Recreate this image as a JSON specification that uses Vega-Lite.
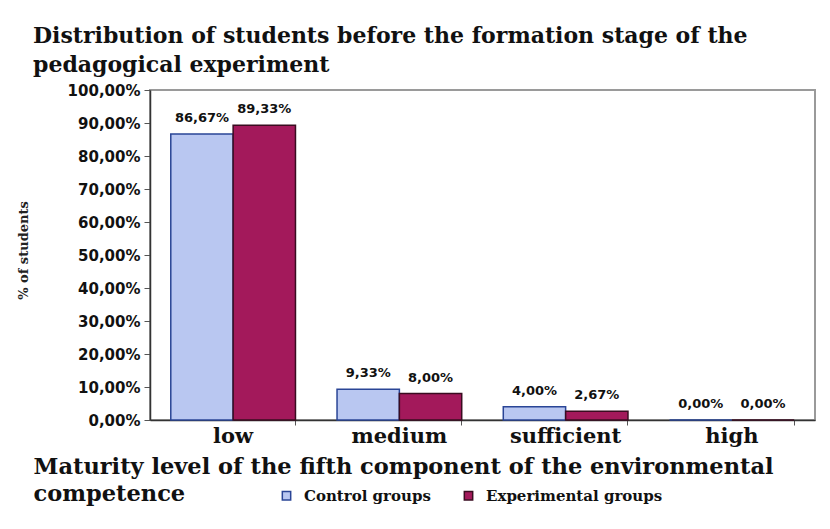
{
  "$schema": "https://vega.github.io/schema/vega-lite/v6.json",
  "width": 665,
  "height": 330,
  "autosize": "none",
  "padding": {"left": 150, "top": 90, "right": 15, "bottom": 109},
  "background": "white",
  "title": {
    "text": ["Distribution of students before the formation stage of the", "pedagogical experiment"],
    "anchor": "start",
    "frame": "group",
    "dx": -117,
    "offset": 6,
    "font": "DejaVu Serif",
    "fontSize": 22,
    "fontWeight": "bold",
    "color": "#111",
    "lineHeight": 29
  },
  "data": {
    "values": [
      {"level": "low", "group": "Control groups", "value": 86.67, "label": "86,67%"},
      {"level": "low", "group": "Experimental groups", "value": 89.33, "label": "89,33%"},
      {"level": "medium", "group": "Control groups", "value": 9.33, "label": "9,33%"},
      {"level": "medium", "group": "Experimental groups", "value": 8.0, "label": "8,00%"},
      {"level": "sufficient", "group": "Control groups", "value": 4.0, "label": "4,00%"},
      {"level": "sufficient", "group": "Experimental groups", "value": 2.67, "label": "2,67%"},
      {"level": "high", "group": "Control groups", "value": 0.0, "label": "0,00%"},
      {"level": "high", "group": "Experimental groups", "value": 0.0, "label": "0,00%"}
    ]
  },
  "config": {
    "view": {"stroke": "#9a9a9a", "strokeWidth": 2},
    "axis": {"grid": false}
  },
  "encoding": {
    "x": {
      "field": "level",
      "type": "nominal",
      "sort": ["low", "medium", "sufficient", "high"],
      "scale": {"paddingInner": 0.25, "paddingOuter": 0.125},
      "axis": {
        "title": ["Maturity level of the fifth component of the environmental", "competence"],
        "titleFont": "DejaVu Serif",
        "titleFontSize": 22.5,
        "titleFontWeight": "bold",
        "titleColor": "#111",
        "titleAnchor": "start",
        "titleAlign": "left",
        "titleBaseline": "alphabetic",
        "titleX": -117,
        "titleY": 53,
        "titleLineHeight": 27,
        "labelAngle": 0,
        "labelFont": "DejaVu Serif",
        "labelFontSize": 21,
        "labelFontWeight": "bold",
        "labelColor": "#111",
        "labelBaseline": "alphabetic",
        "labelPadding": 17,
        "domainColor": "#333",
        "domainWidth": 1.5,
        "tickColor": "#555",
        "tickSize": 5,
        "bandPosition": 1
      }
    },
    "xOffset": {"field": "group", "type": "nominal", "sort": ["Control groups", "Experimental groups"]},
    "y": {
      "field": "value",
      "type": "quantitative",
      "scale": {"domain": [0, 100], "nice": false},
      "axis": {
        "values": [0, 10, 20, 30, 40, 50, 60, 70, 80, 90, 100],
        "labelExpr": "replace(format(datum.value, '.2f'), '.', ',') + '%'",
        "labelFont": "DejaVu Sans",
        "labelFontSize": 15,
        "labelFontWeight": "bold",
        "labelColor": "#111",
        "labelPadding": 4,
        "tickSize": 6,
        "tickColor": "#555",
        "domainColor": "#333",
        "domainWidth": 1.5,
        "title": "% of students",
        "titleFont": "DejaVu Serif",
        "titleFontSize": 13,
        "titleFontWeight": "bold",
        "titleColor": "#222",
        "titleBaseline": "middle",
        "titleX": -127,
        "titleY": 160
      }
    }
  },
  "layer": [
    {
      "mark": {"type": "bar", "strokeWidth": 1.5},
      "encoding": {
        "color": {
          "field": "group",
          "type": "nominal",
          "scale": {"domain": ["Control groups", "Experimental groups"], "range": ["#b9c7f1", "#a3195b"]},
          "legend": {
            "title": null,
            "orient": "none",
            "direction": "horizontal",
            "legendX": 129,
            "legendY": 398,
            "symbolType": "square",
            "symbolSize": 70,
            "symbolStrokeWidth": 1.5,
            "labelFont": "DejaVu Serif",
            "labelFontSize": 15,
            "labelFontWeight": "bold",
            "labelColor": "#111",
            "labelLimit": 400,
            "columnPadding": 30,
            "labelOffset": 10
          }
        },
        "stroke": {
          "field": "group",
          "type": "nominal",
          "scale": {"domain": ["Control groups", "Experimental groups"], "range": ["#2a4596", "#3a0c20"]},
          "legend": null
        }
      }
    },
    {
      "mark": {"type": "text", "baseline": "alphabetic", "dy": -12, "font": "DejaVu Sans", "fontSize": 13, "fontWeight": "bold", "color": "#111"},
      "encoding": {"text": {"field": "label"}}
    }
  ]
}
